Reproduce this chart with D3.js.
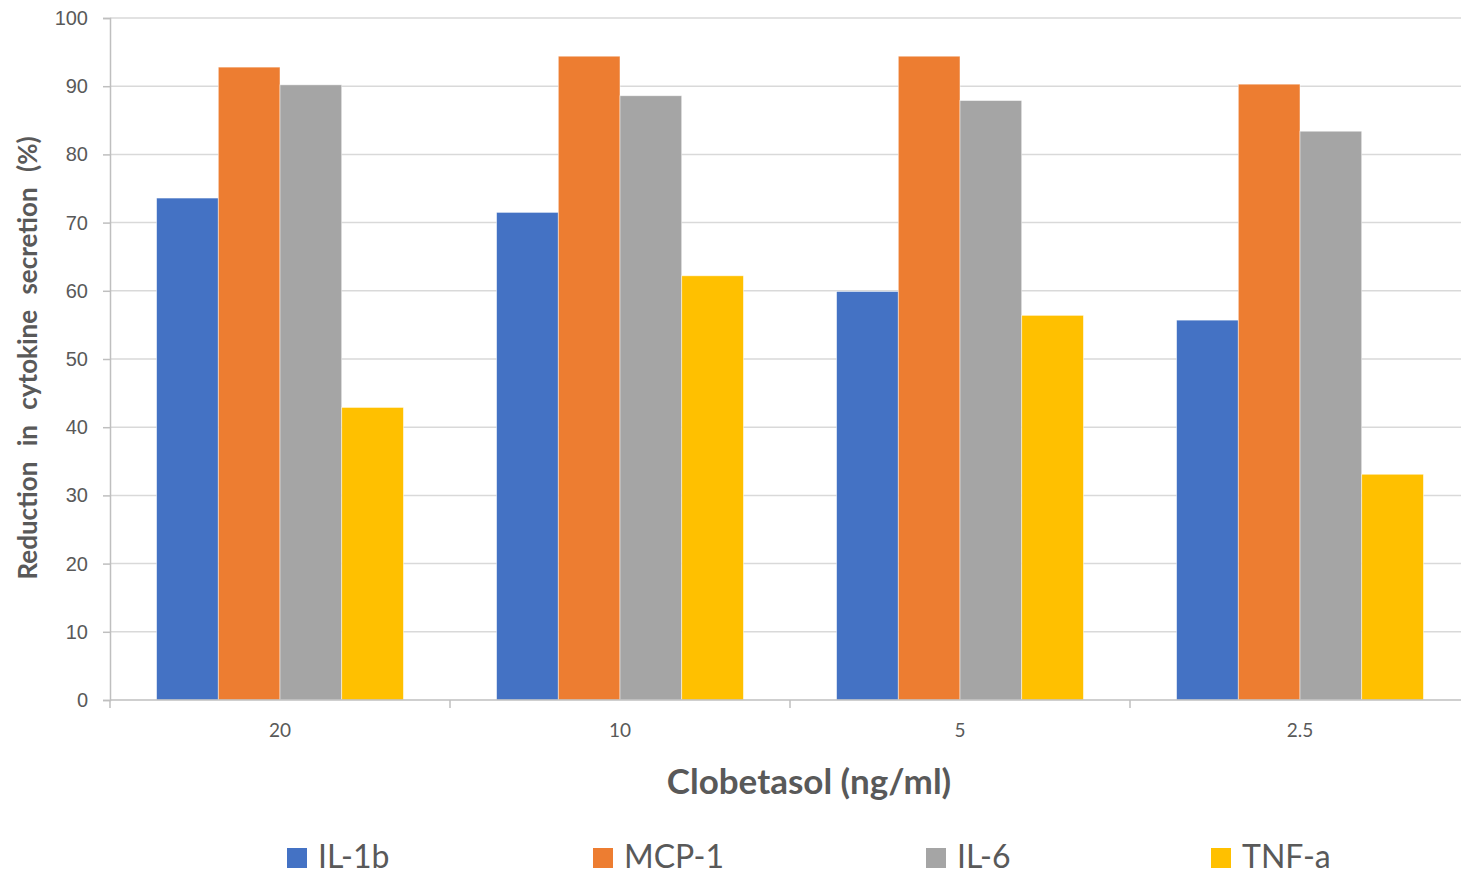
<!DOCTYPE html>
<html>
<head>
<meta charset="utf-8">
<title>Clobetasol cytokine reduction</title>
<script src="https://cdn.jsdelivr.net/npm/d3@7/dist/d3.min.js"></script>
<style>
  body { margin: 0; background: #fff; }
  svg { display: block; font-family: Lato, "Open Sans", sans-serif; }
</style>
</head>
<body>
<div id="chart"></div>
<script>
// data
const doses = ["20", "10", "5", "2.5"];
const seriesNames = ["IL-1b", "MCP-1", "IL-6", "TNF-a"];
const il1b = [73.6, 71.5, 59.9, 55.7];
const mcp1 = [92.8, 94.4, 94.4, 90.3];
const il6 = [90.2, 88.6, 87.9, 83.4];
const tnfa = [42.9, 62.2, 56.4, 33.1];
const yTicks = [0, 10, 20, 30, 40, 50, 60, 70, 80, 90, 100];
const colors = ["#4472C4", "#ED7D31", "#A5A5A5", "#FFC000"];

const seriesValues = [il1b, mcp1, il6, tnfa];

const width = 1461, height = 875;
const plot = { left: 110, right: 1470, top: 18, bottom: 700 };

const svg = d3.select("#chart").append("svg")
  .attr("width", width)
  .attr("height", height);

const x0 = d3.scaleBand().domain(doses).range([plot.left, plot.right]).padding(0);
const x1 = d3.scaleBand().domain(seriesNames)
  .range([x0.bandwidth() * 0.137, x0.bandwidth() * (1 - 0.137)]).padding(0);
const y = d3.scaleLinear().domain([0, 100]).range([plot.bottom, plot.top]);

// gridlines
svg.append("g")
  .selectAll("line")
  .data(yTicks.filter(d => d > 0))
  .enter().append("line")
  .attr("x1", plot.left).attr("x2", plot.right)
  .attr("y1", d => y(d)).attr("y2", d => y(d))
  .attr("stroke", "#D9D9D9").attr("stroke-width", 1.5);

// bars
const groups = svg.append("g")
  .selectAll("g")
  .data(doses)
  .enter().append("g")
  .attr("transform", d => "translate(" + x0(d) + ",0)");

groups.selectAll("rect")
  .data((d, i) => seriesNames.map((s, j) => ({ s: s, v: seriesValues[j][i], c: colors[j] })))
  .enter().append("rect")
  .attr("x", d => x1(d.s))
  .attr("width", x1.bandwidth())
  .attr("y", d => y(d.v))
  .attr("height", d => y(0) - y(d.v))
  .attr("fill", d => d.c)
  .attr("stroke", "#fff")
  .attr("stroke-opacity", 0.6)
  .attr("stroke-width", 0.8);

// y axis
const yAxis = svg.append("g")
  .attr("transform", "translate(" + plot.left + ",0)")
  .call(d3.axisLeft(y).tickValues(yTicks).tickSize(7).tickPadding(15));
yAxis.select(".domain").attr("stroke", "#BFBFBF").attr("stroke-width", 1.5);
yAxis.selectAll(".tick line").attr("stroke", "#BFBFBF").attr("stroke-width", 1.5);
yAxis.selectAll("text").attr("fill", "#595959").style("font-size", "20px");

// x axis: baseline, boundary ticks, centred labels
svg.append("line")
  .attr("x1", plot.left).attr("x2", plot.right)
  .attr("y1", y(0)).attr("y2", y(0))
  .attr("stroke", "#BFBFBF").attr("stroke-width", 1.5);

svg.append("g")
  .selectAll("line")
  .data(doses)
  .enter().append("line")
  .attr("x1", d => x0(d)).attr("x2", d => x0(d))
  .attr("y1", y(0)).attr("y2", y(0) + 8)
  .attr("stroke", "#BFBFBF").attr("stroke-width", 1.5);

svg.append("g")
  .selectAll("text")
  .data(doses)
  .enter().append("text")
  .attr("x", d => x0(d) + x0.bandwidth() / 2)
  .attr("y", 737)
  .attr("text-anchor", "middle")
  .attr("fill", "#595959")
  .style("font-size", "19px")
  .text(d => d);

// axis titles
svg.append("text")
  .attr("x", 809)
  .attr("y", 794)
  .attr("text-anchor", "middle")
  .attr("fill", "#595959")
  .style("font-size", "35px")
  .style("font-weight", "bold")
  .text("Clobetasol (ng/ml)");

svg.append("text")
  .attr("transform", "translate(37,358) rotate(-90)")
  .attr("text-anchor", "middle")
  .attr("fill", "#595959")
  .style("font-size", "26px")
  .style("font-weight", "bold")
  .style("word-spacing", "9px")
  .text("Reduction in cytokine secretion (%)");

// legend
const legendX = [287, 593, 926, 1211];
const legend = svg.append("g")
  .selectAll("g")
  .data(seriesNames)
  .enter().append("g")
  .attr("transform", (d, i) => "translate(" + legendX[i] + ",848)");

legend.append("rect")
  .attr("width", 20).attr("height", 20)
  .attr("fill", (d, i) => colors[i]);

legend.append("text")
  .attr("x", 31)
  .attr("y", 20)
  .attr("fill", "#595959")
  .style("font-size", "32px")
  .text(d => d);
</script>
</body>
</html>
